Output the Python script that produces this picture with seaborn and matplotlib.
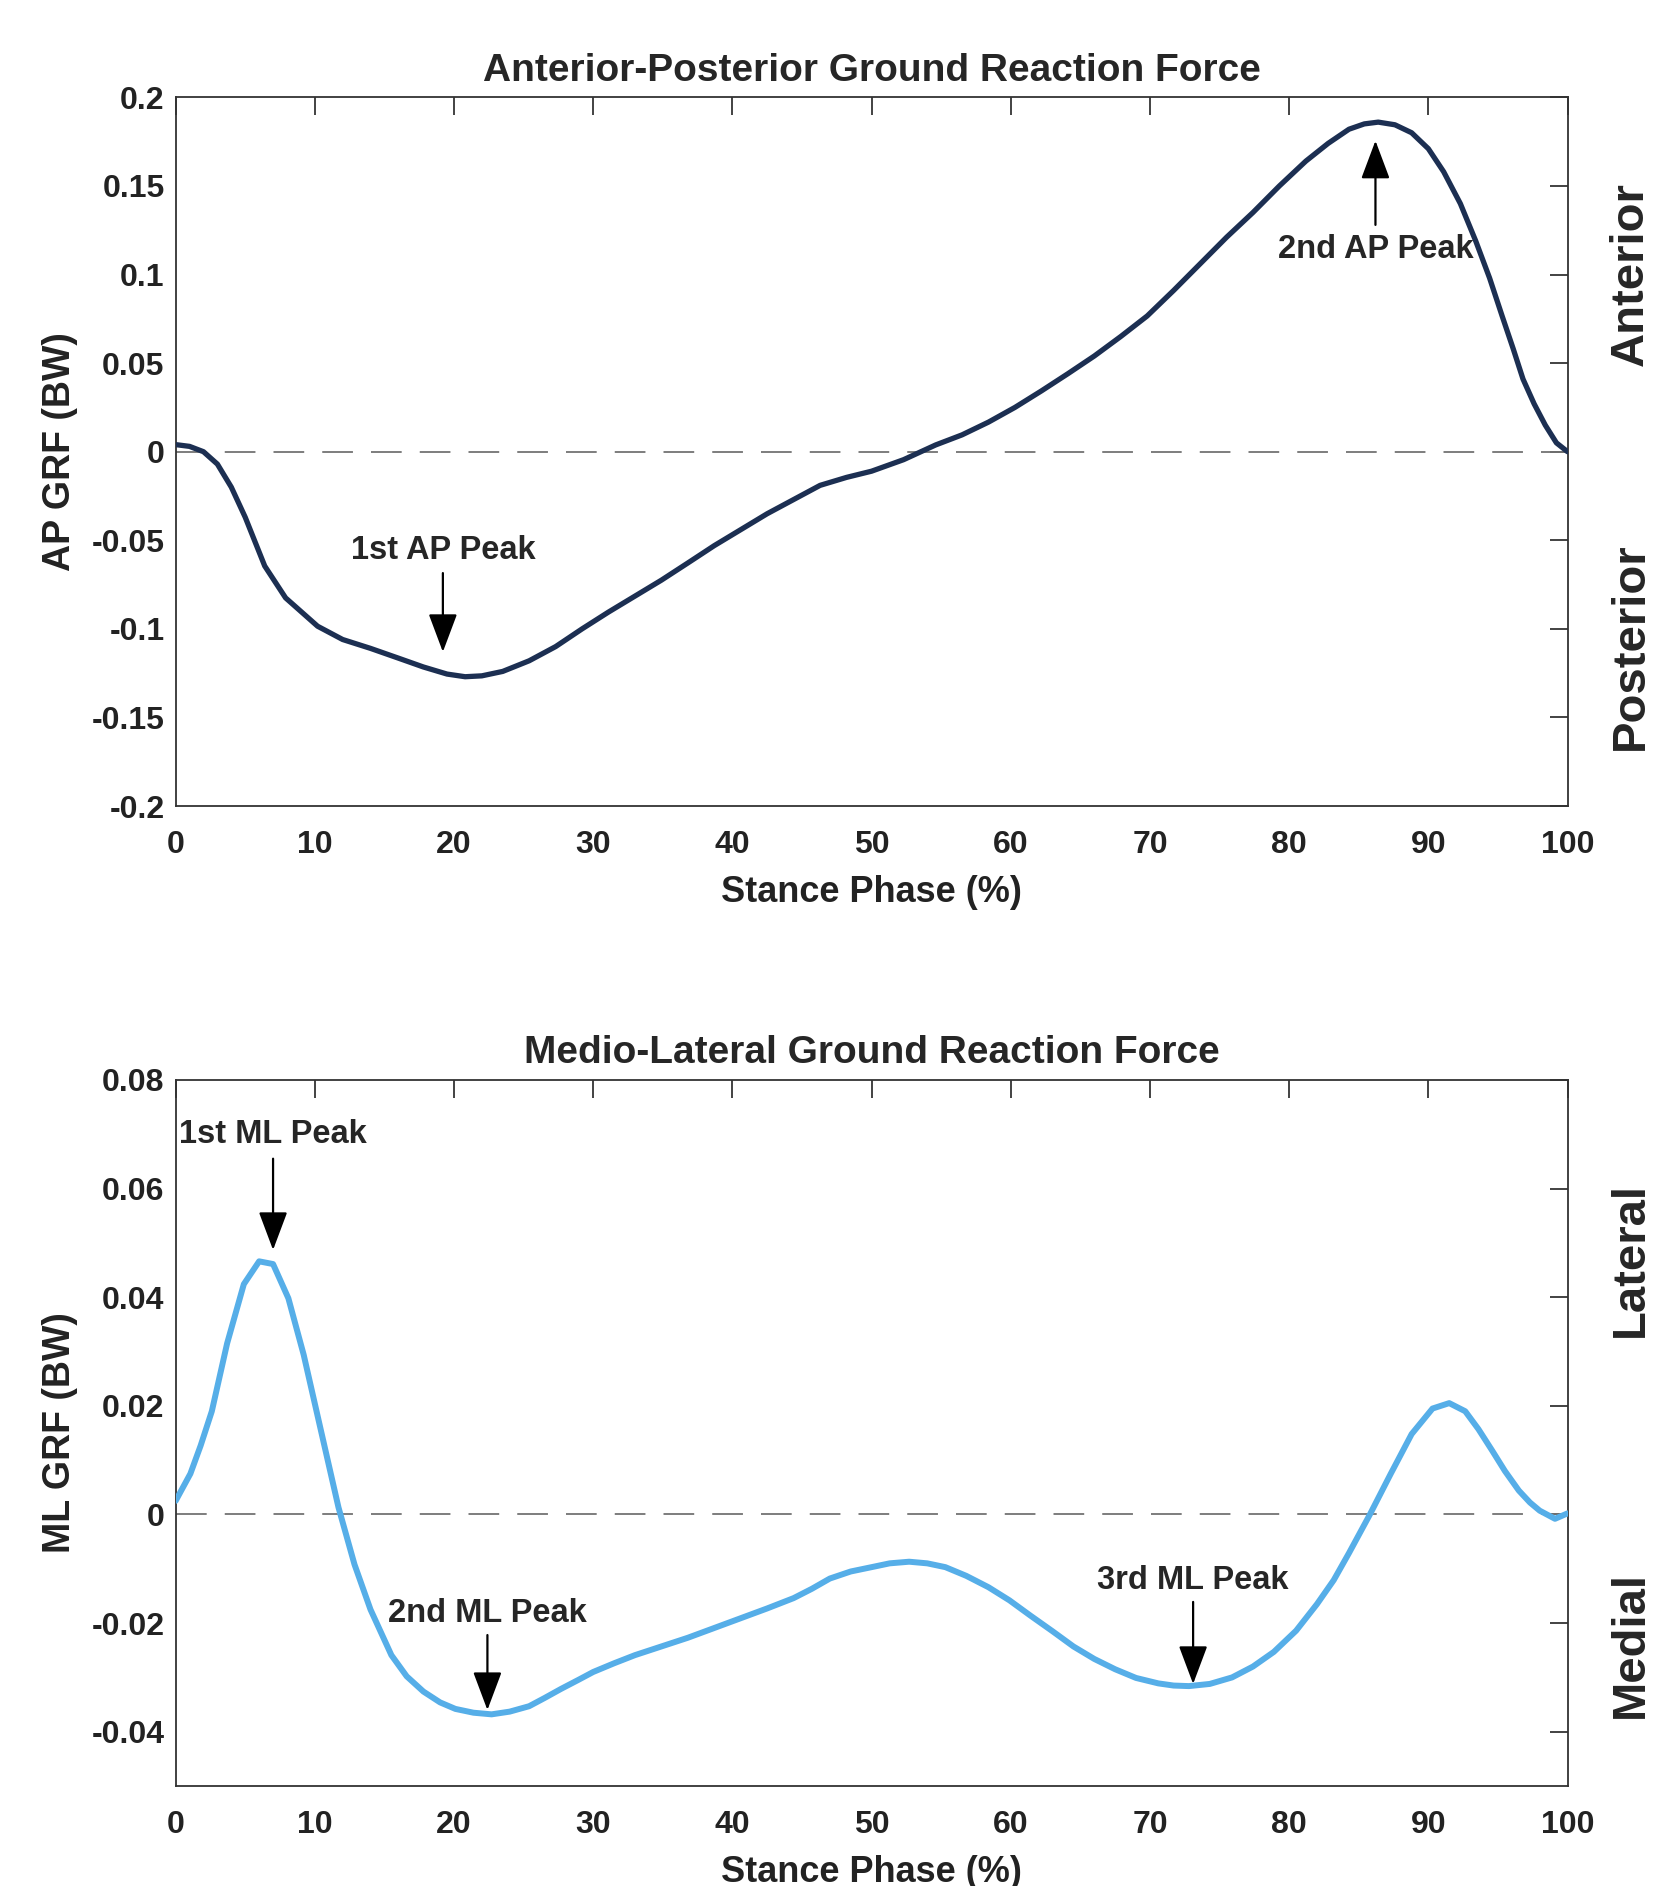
import numpy as np
import pandas as pd
import seaborn as sns
import matplotlib
matplotlib.use('Agg')
import matplotlib.pyplot as plt

# values
ap_x = [0, 1, 2, 3, 4, 5, 6.4, 7.9, 10.2, 12, 14, 16, 17.8, 19.5, 20.8, 22, 23.5, 25.4, 27.3,
        29.2, 31.1, 33, 34.9, 36.8, 38.7, 40.6, 42.5, 44.4, 46.3, 48.2, 50, 52.3, 54.6, 56.5,
        58.4, 60.3, 62.2, 64.1, 66, 67.9, 69.8, 71.7, 73.6, 75.5, 77.4, 79.3, 81.2, 82.8,
        84.3, 85.4, 86.4, 87.6, 88.8, 90, 91.1, 92.3, 93.4, 94.4, 95.3, 96.1, 96.8, 97.6,
        98.4, 99.2, 100]
ap_y = [0.004, 0.003, 0.0, -0.007, -0.02, -0.037, -0.0645, -0.0825, -0.0985, -0.106, -0.111,
        -0.1165, -0.1215, -0.1255, -0.127, -0.1265, -0.124, -0.118, -0.110, -0.1, -0.0905,
        -0.0815, -0.0725, -0.0628, -0.053, -0.044, -0.035, -0.027, -0.019, -0.0145, -0.011,
        -0.0045, 0.0038, 0.0095, 0.0167, 0.025, 0.0343, 0.044, 0.054, 0.065, 0.0766, 0.091,
        0.106, 0.121, 0.135, 0.15, 0.164, 0.174, 0.182, 0.185, 0.186, 0.1845, 0.180, 0.171,
        0.158, 0.14, 0.119, 0.098, 0.0766, 0.058, 0.041, 0.027, 0.015, 0.005, 0.0]

ml_x = [0, 1.06, 1.8, 2.6, 3.7, 4.9, 6.0, 7.0, 8.1, 9.2, 10.4, 11.7, 12.85, 14.0, 15.5, 16.6,
        17.8, 19.0, 20.1, 21.4, 22.7, 24.0, 25.4, 26.5, 27.7, 28.9, 30.0, 31.5, 33.0, 34.9,
        36.8, 38.7, 40.6, 42.5, 44.4, 45.7, 47.0, 48.5, 50, 51.3, 52.7, 54.0, 55.3, 56.8,
        58.4, 59.9, 61.4, 63.0, 64.5, 66.0, 67.5, 69.0, 70.6, 71.7, 72.8, 74.3, 75.9, 77.4,
        78.9, 80.5, 82.0, 83.2, 84.3, 85.8, 87.3, 88.8, 90.3, 91.5, 92.65, 93.6, 94.6, 95.5,
        96.5, 97.3, 98.0, 99.1, 100]
ml_y = [0.0025, 0.0075, 0.0127, 0.019, 0.0315, 0.0424, 0.0466, 0.0461, 0.0398, 0.0294, 0.0159,
        0.0013, -0.0092, -0.0175, -0.0259, -0.0298, -0.0326, -0.0346, -0.0358, -0.0365,
        -0.0368, -0.0363, -0.0353, -0.0338, -0.0321, -0.0305, -0.029, -0.0274, -0.0259,
        -0.0243, -0.0227, -0.0209, -0.0191, -0.0173, -0.0154, -0.0137, -0.0118, -0.0105,
        -0.0097, -0.009, -0.0087, -0.009, -0.0097, -0.0113, -0.0134, -0.0158, -0.0186,
        -0.0215, -0.0243, -0.0266, -0.0285, -0.0301, -0.0311, -0.0315, -0.0316, -0.0312,
        -0.030, -0.028, -0.0253, -0.0214, -0.0165, -0.0121, -0.0071, 0.0, 0.0075, 0.0148,
        0.0195, 0.0205, 0.019, 0.0157, 0.0117, 0.008, 0.0044, 0.0022, 0.0007, -0.0008, 0.0002]

ap_peaks = [("1st AP Peak", 19.2, -0.056, -0.0685, -0.113),
            ("2nd AP Peak", 86.2, 0.114, 0.128, 0.1755)]
ml_peaks = [("1st ML Peak", 7.0, 0.0700, 0.0655, 0.0487),
            ("2nd ML Peak", 22.4, -0.0183, -0.0222, -0.036),
            ("3rd ML Peak", 73.1, -0.0121, -0.0161, -0.0312)]

ap_sides = [("Anterior", 0.1), ("Posterior", -0.11)]
ml_sides = [("Lateral", 0.047), ("Medial", -0.024)]

ap_df = pd.DataFrame({'x': ap_x, 'y': ap_y})
ml_df = pd.DataFrame({'x': ml_x, 'y': ml_y})

sns.set_style('white')
plt.rcParams['font.family'] = ['Liberation Sans', 'DejaVu Sans']
plt.rcParams['font.weight'] = 'bold'

fig = plt.figure(figsize=(16.6, 18.86), dpi=100)
ax1 = fig.add_axes([0.1058, 0.5726, 0.8385, 0.3758])
ax2 = fig.add_axes([0.1058, 0.0530, 0.8385, 0.3744])


def style_axes(ax, title, ylabel, ylim, yticks, yticklabels):
    ax.set_xlim(0, 100)
    ax.set_ylim(*ylim)
    ax.set_xticks(range(0, 101, 10))
    ax.set_yticks(yticks)
    ax.set_yticklabels(yticklabels)
    ax.tick_params(direction='in', length=13, width=1.2, top=True, right=True,
                   labelsize=23, colors='#222222', pad=8)
    ax.tick_params(axis='x', pad=17)
    for s in ax.spines.values():
        s.set_color('#333333')
        s.set_linewidth(1.3)
    ax.set_title(title, fontsize=28, fontweight='bold', pad=12)
    ax.set_xlabel('Stance Phase (%)', fontsize=26, fontweight='bold', color='#222222', labelpad=11)
    ax.set_ylabel(ylabel, fontsize=27, fontweight='bold', color='#222222', labelpad=10)
    ax.axhline(0, color='0.45', lw=1.3, dashes=(17, 10), zorder=1)


def add_peaks(ax, peaks):
    for label, x, ty, y0, y1 in peaks:
        ax.text(x, ty, label, ha='center', va='center', fontsize=23.5, fontweight='bold')
        ax.annotate('', xy=(x, y1), xytext=(x, y0),
                    arrowprops=dict(arrowstyle='-|>,head_length=0.8,head_width=0.3',
                                    color='black', lw=1.6, mutation_scale=30,
                                    shrinkA=0, shrinkB=0))


def add_sides(ax, sides):
    for label, y in sides:
        ax.text(1.0456, y, label, transform=ax.get_yaxis_transform(), rotation=90,
                ha='center', va='center', fontsize=34, fontweight='bold')


sns.lineplot(data=ap_df, x='x', y='y', ax=ax1, color='#1c2f52', lw=3.8, zorder=3)
style_axes(ax1, 'Anterior-Posterior Ground Reaction Force', 'AP GRF (BW)', (-0.2, 0.2),
           np.arange(-0.2, 0.21, 0.05),
           ['-0.2', '-0.15', '-0.1', '-0.05', '0', '0.05', '0.1', '0.15', '0.2'])
add_peaks(ax1, ap_peaks)
add_sides(ax1, ap_sides)

sns.lineplot(data=ml_df, x='x', y='y', ax=ax2, color='#56aee8', lw=4.3, zorder=3)
style_axes(ax2, 'Medio-Lateral Ground Reaction Force', 'ML GRF (BW)', (-0.05, 0.08),
           np.arange(-0.04, 0.081, 0.02),
           ['-0.04', '-0.02', '0', '0.02', '0.04', '0.06', '0.08'])
add_peaks(ax2, ml_peaks)
add_sides(ax2, ml_sides)

fig.savefig('out.png', dpi=100)
